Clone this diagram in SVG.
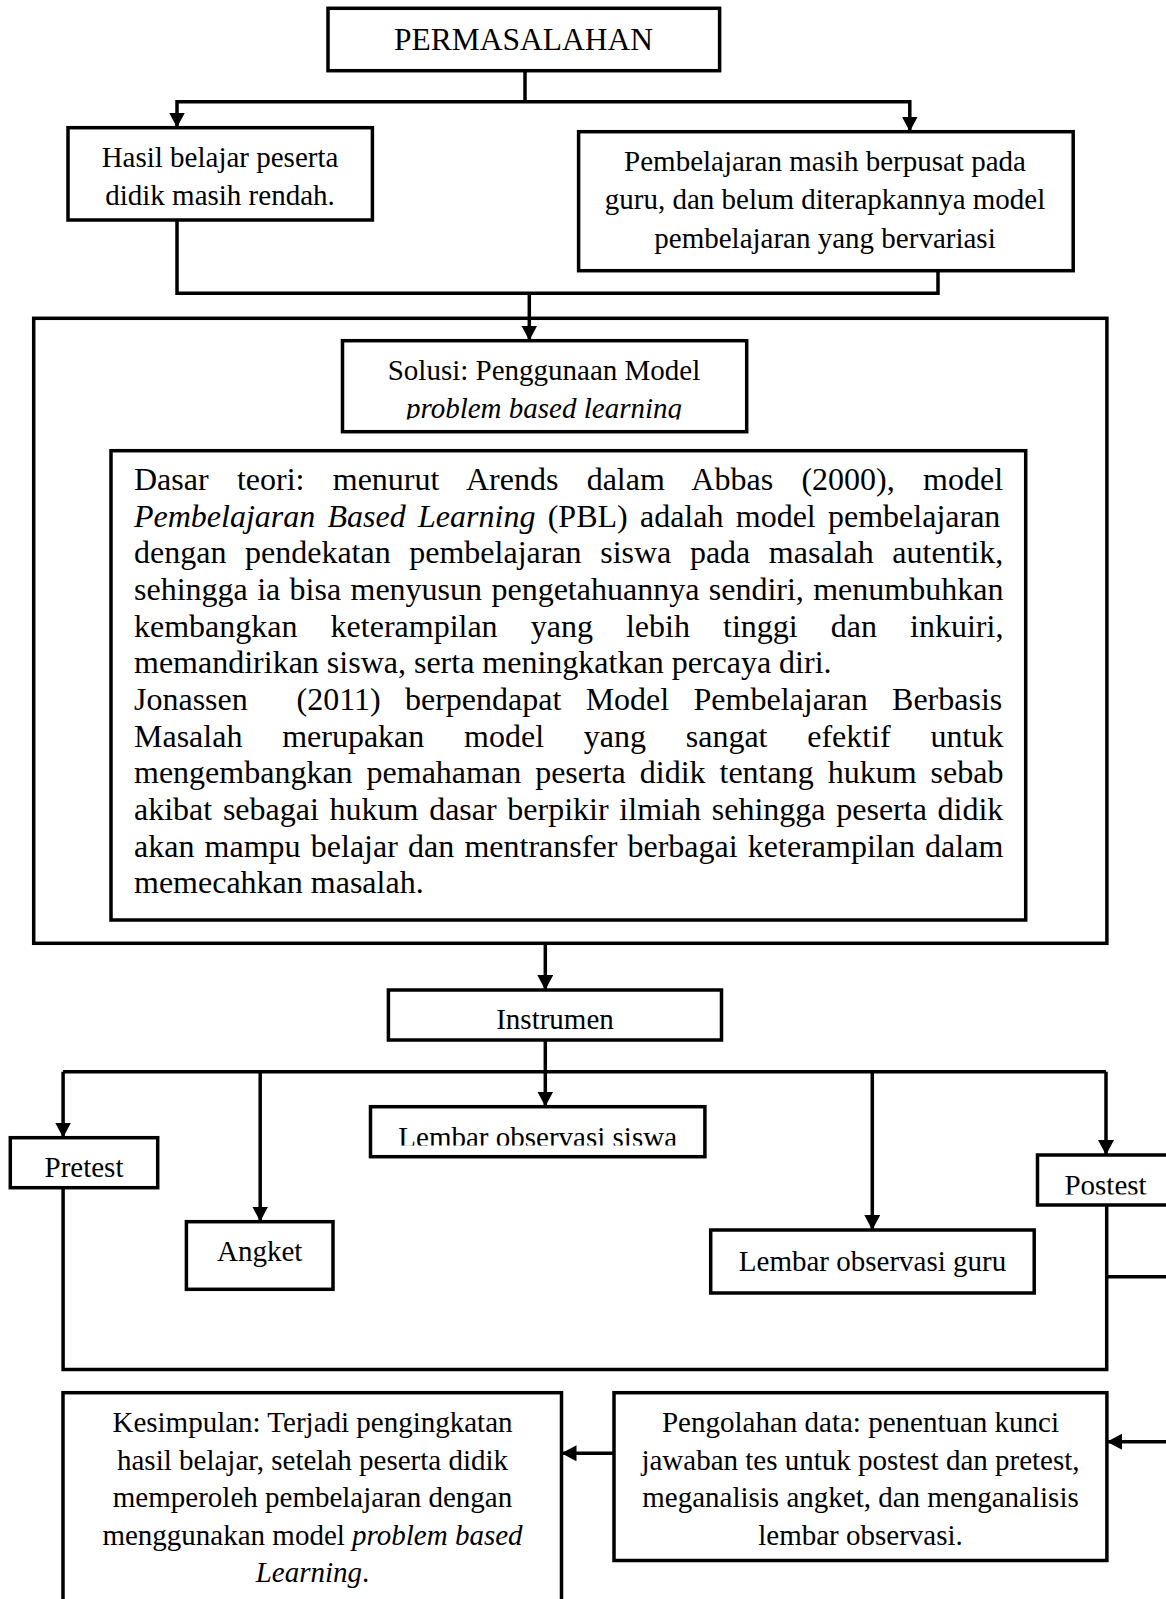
<svg xmlns="http://www.w3.org/2000/svg" width="1166" height="1599" viewBox="0 0 1166 1599">
<defs>
<marker id="ah" markerUnits="userSpaceOnUse" markerWidth="16" markerHeight="16" refX="15" refY="8" orient="auto">
<path d="M0,0 L15,8 L0,16 z" fill="#000"/>
</marker>
<clipPath id="cSolusi"><rect x="342" y="340" width="406" height="79.5"/></clipPath>
<clipPath id="cSiswa"><rect x="370" y="1106" width="336" height="39.5"/></clipPath>
<clipPath id="cPost"><rect x="1037" y="1155" width="140" height="39.5"/></clipPath>
</defs>
<style>
.box{fill:#fff;stroke:#000;stroke-width:3.5}
.frame{fill:none;stroke:#000;stroke-width:3.5}
.t{font-family:"Liberation Serif","Times New Roman",serif;font-size:29px;fill:#000;text-anchor:middle}
.b{font-family:"Liberation Serif","Times New Roman",serif;font-size:32px;fill:#000}
.i{font-style:italic}
.c{fill:none;stroke:#000;stroke-width:3.5}
.a{marker-end:url(#ah)}
</style>

<g id="outer-solution">
<rect class="frame" x="33.7" y="318.3" width="1073.2" height="625"/>
</g>

<g id="connectors">
<path class="c" d="M525,71 V101.7"/>
<path class="c a" d="M525,101.7 H177 V127.5"/>
<path class="c a" d="M525,101.7 H909.8 V131.5"/>
<path class="c" d="M177,220 V293.3 H938 V270.7"/>
<path class="c a" d="M529.3,293.3 V340.5"/>
<path class="c a" d="M545.3,943.3 V990"/>
<path class="c a" d="M545.3,1040 V1106.5"/>
<path class="c" d="M63.1,1071.7 H1106"/>
<path class="c a" d="M63.1,1071.7 V1137.5"/>
<path class="c a" d="M260.2,1071.7 V1221.5"/>
<path class="c a" d="M872.3,1071.7 V1230"/>
<path class="c a" d="M1106,1071.7 V1155"/>
<path class="c" d="M63.1,1187.7 V1369.5 H1106.7 V1205"/>
<path class="c a" d="M1106.7,1276.7 H1185 V1441.7 H1107"/>
<path class="c a" d="M614,1453.3 H561.5"/>
</g>

<g id="permasalahan">
<rect class="box" x="328" y="8.3" width="391.6" height="62.4"/>
<text class="t" x="523.5" y="50" style="font-size:31.5px">PERMASALAHAN</text>
</g>

<g id="hasil">
<rect class="box" x="68" y="127.7" width="304.4" height="92.3"/>
<text class="t" x="220" y="166.7">Hasil belajar peserta</text>
<text class="t" x="220" y="205">didik masih rendah.</text>
</g>

<g id="pembelajaran">
<rect class="box" x="578.6" y="131.7" width="494.6" height="139"/>
<text class="t" x="825" y="170.5">Pembelajaran masih berpusat pada</text>
<text class="t" x="825" y="209">guru, dan belum diterapkannya model</text>
<text class="t" x="825" y="247.5">pembelajaran yang bervariasi</text>
</g>

<g id="solusi">
<rect class="box" x="342.5" y="340.7" width="404.2" height="91"/>
<g clip-path="url(#cSolusi)">
<text class="t" x="544" y="380">Solusi: Penggunaan Model</text>
<text class="t i" x="544" y="418">problem based learning</text>
</g>
</g>

<g id="dasar-teori">
<rect class="box" x="111" y="450.7" width="914.7" height="469.3"/>
<text class="b" x="134" y="490" word-spacing="20.3">Dasar teori: menurut Arends dalam Abbas (2000), model</text>
<text class="b" x="134" y="526.7" word-spacing="4.28"><tspan class="i">Pembelajaran Based Learning</tspan> (PBL) adalah model pembelajaran</text>
<text class="b" x="134" y="563.3" word-spacing="10.58">dengan pendekatan pembelajaran siswa pada masalah autentik,</text>
<text class="b" x="134" y="600" word-spacing="1.38">sehingga ia bisa menyusun pengetahuannya sendiri, menumbuhkan</text>
<text class="b" x="134" y="636.7" word-spacing="25.08">kembangkan keterampilan yang lebih tinggi dan inkuiri,</text>
<text class="b" x="134" y="673.3">memandirikan siswa, serta meningkatkan percaya diri.</text>
<text class="b" x="134" y="710" word-spacing="16.35">Jonassen <tspan dx="24.35">(2011)</tspan> berpendapat Model Pembelajaran Berbasis</text>
<text class="b" x="134" y="746.7" word-spacing="31.75">Masalah merupakan model yang sangat efektif untuk</text>
<text class="b" x="134" y="783.3" word-spacing="5.98">mengembangkan pemahaman peserta didik tentang hukum sebab</text>
<text class="b" x="134" y="820" word-spacing="2.7">akibat sebagai hukum dasar berpikir ilmiah sehingga peserta didik</text>
<text class="b" x="134" y="856.7" word-spacing="2.21">akan mampu belajar dan mentransfer berbagai keterampilan dalam</text>
<text class="b" x="134" y="893.3">memecahkan masalah.</text>
</g>

<g id="instrumen">
<rect class="box" x="388.4" y="990" width="333.1" height="50"/>
<text class="t" x="555" y="1029">Instrumen</text>
</g>

<g id="pretest">
<rect class="box" x="10.3" y="1137.7" width="147.4" height="50"/>
<text class="t" x="84" y="1177">Pretest</text>
</g>

<g id="angket">
<rect class="box" x="186.4" y="1221.7" width="146.6" height="67.6"/>
<text class="t" x="259.7" y="1261">Angket</text>
</g>

<g id="lembar-siswa">
<rect class="box" x="370.5" y="1106.7" width="334.4" height="50"/>
<text class="t" x="537.7" y="1146.5" clip-path="url(#cSiswa)">Lembar observasi siswa</text>
</g>

<g id="lembar-guru">
<rect class="box" x="710.7" y="1230" width="323.5" height="63"/>
<text class="t" x="872.5" y="1271">Lembar observasi guru</text>
</g>

<g id="postest">
<rect class="box" x="1037.5" y="1155" width="136" height="50"/>
<text class="t" x="1105.5" y="1195" clip-path="url(#cPost)">Postest</text>
</g>

<g id="kesimpulan">
<rect class="box" x="63" y="1392.7" width="498.5" height="240"/>
<text class="t" x="312.5" y="1432">Kesimpulan: Terjadi pengingkatan</text>
<text class="t" x="312.5" y="1469.5">hasil belajar, setelah peserta didik</text>
<text class="t" x="312.5" y="1507">memperoleh pembelajaran dengan</text>
<text class="t" x="312.5" y="1544.5">menggunakan model <tspan class="i">problem based</tspan></text>
<text class="t" x="312.5" y="1582"><tspan class="i">Learning</tspan>.</text>
</g>

<g id="pengolahan">
<rect class="box" x="614" y="1392.7" width="492.9" height="167.8"/>
<text class="t" x="860.5" y="1432">Pengolahan data: penentuan kunci</text>
<text class="t" x="860.5" y="1469.5">jawaban tes untuk postest dan pretest,</text>
<text class="t" x="860.5" y="1507">meganalisis angket, dan menganalisis</text>
<text class="t" x="860.5" y="1544.5">lembar observasi.</text>
</g>
</svg>
